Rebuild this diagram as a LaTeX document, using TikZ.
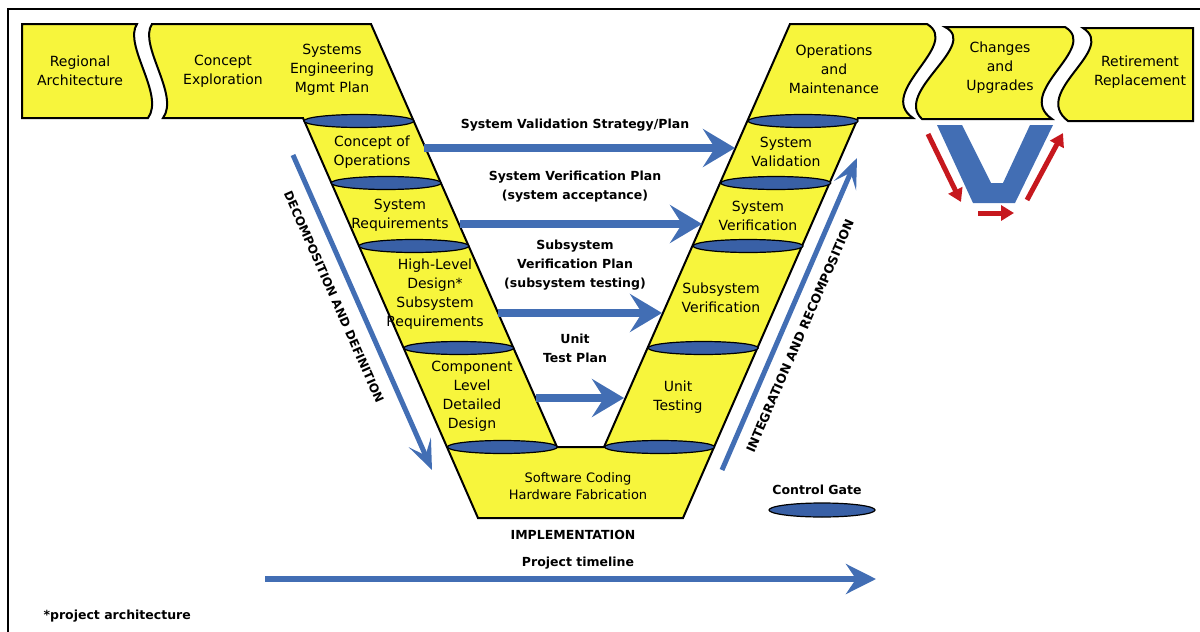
\documentclass[tikz,border=0pt]{standalone}
\usepackage{fontspec}
\setmainfont{DejaVu Sans}
\usetikzlibrary{arrows.meta}

\definecolor{phaseyellow}{RGB}{247,245,60}
\definecolor{gateblue}{RGB}{57,96,166}
\definecolor{flowblue}{RGB}{66,110,180}
\definecolor{stepred}{RGB}{198,24,30}

\begin{document}
\begin{tikzpicture}[x=1pt,y=-1pt,
    phase/.style={fill=phaseyellow,draw=black,line width=2pt},
    gate/.style={fill=gateblue,draw=black,line width=1.2pt},
    stage/.style={align=center,font=\fontsize{14}{19}\selectfont},
    plan/.style={align=center,font=\fontsize{12.5}{19}\selectfont\bfseries},
    flow/.style={draw=flowblue,line width=8pt,-{Stealth[length=32pt,width=38pt,inset=12pt]}},
    trend/.style={draw=flowblue,line width=5pt,-{Stealth[length=30pt,width=24pt,inset=14pt]}},
    redstep/.style={draw=stepred,line width=5pt,-{Triangle[length=13pt,width=15pt]}}]
    \useasboundingbox (0,0) rectangle (1200,632);

    % the frame
    \draw[line width=2pt] (8,632) -- (8,9) -- (1200,9);

    % regional architecture
    \draw[phase] (22,24) -- (137,24) .. controls (123,45) and (165,95) .. (148,118) -- (22,118) -- cycle;

    % concept, the v and operations
    \draw[phase] (152,24) -- (371,24) -- (557,447) -- (604,447) -- (790,24) -- (927,24)
        .. controls (962,45) and (875,92) .. (913,118) -- (858,118) -- (683,518) -- (478,518)
        -- (303,118) -- (163,118) .. controls (180,95) and (138,45) .. (152,24) -- cycle;

    % changes and upgrades
    \draw[phase] (945,27) -- (1065,27) .. controls (1100,48) and (1013,92) .. (1052,119)
        -- (922,119) .. controls (893,92) and (980,45) .. (945,27) -- cycle;

    % retirement
    \draw[phase] (1083,28) -- (1193,28) -- (1193,121) -- (1068,121)
        .. controls (1030,92) and (1118,50) .. (1083,28) -- cycle;

    % control gates on both arms
    \foreach \y in {121,183,246,348,447} {
        \draw[gate] ({358.5+0.44*(\y-120)},\y) ellipse [x radius=55pt,y radius=6.5pt];
        \draw[gate] ({803.5-0.44*(\y-120)},\y) ellipse [x radius=55pt,y radius=6.5pt];
    }

    % top phases
    \node[stage] (regarch) at (80,71) {Regional\\Architecture};
    \node[stage] (conexp) at (223,71) {Concept\\Exploration};
    \node[stage] (semp) at (332,70) {Systems\\Engineering\\Mgmt Plan};
    \node[stage] (opsmaint) at (834,69) {Operations\\and\\Maintenance};
    \node[stage] (changes) at (1000,68) {Changes\\and\\Upgrades};
    \node[stage] (retire) at (1140,72) {Retirement\\Replacement};

    % left arm
    \node[stage] (conops) at (372,152) {Concept of\\Operations};
    \node[stage] (sysreq) at (400,215) {System\\Requirements};
    \node[stage] (hld) at (435,294) {High-Level\\Design*\\Subsystem\\Requirements};
    \node[stage] (compdes) at (472,396) {Component\\Level\\Detailed\\Design};
    \node[stage,font=\fontsize{13}{17.5}\selectfont] (coding) at (578,486) {Software Coding\\Hardware Fabrication};

    % right arm
    \node[stage] (unittest) at (678,397) {Unit\\Testing};
    \node[stage] (subver) at (721,298) {Subsystem\\Verification};
    \node[stage] (sysver) at (758,216) {System\\Verification};
    \node[stage] (sysval) at (786,152) {System\\Validation};

    % plans across the v
    \node[plan] (valplan) at (575,125) {System Validation Strategy/Plan};
    \node[plan] (verplan) at (575,187) {System Verification Plan\\(system acceptance)};
    \node[plan] (subplan) at (575,265) {Subsystem\\Verification Plan\\(subsystem testing)};
    \node[plan] (unitplan) at (575,348) {Unit\\Test Plan};

    \coordinate (valL) at (424,148);  \coordinate (valR) at (735,148);
    \coordinate (verL) at (460,224);  \coordinate (verR) at (702,224);
    \coordinate (subL) at (498,313);  \coordinate (subR) at (662,313);
    \coordinate (unitL) at (536,398); \coordinate (unitR) at (624,398);
    \draw[flow] (valL) -- (valR);
    \draw[flow] (verL) -- (verR);
    \draw[flow] (subL) -- (subR);
    \draw[flow] (unitL) -- (unitR);

    % decomposition / integration
    \coordinate (decTop) at (293,155); \coordinate (decBot) at (432,470);
    \draw[trend] (decTop) -- (decBot);
    \node[plan,font=\fontsize{12}{14}\selectfont\bfseries,rotate=-66.2] (decomp) at (334,297) {DECOMPOSITION AND DEFINITION};
    \coordinate (intBot) at (722,470); \coordinate (intTop) at (857,158);
    \draw[trend] (intBot) -- (intTop);
    \node[plan,font=\fontsize{12.5}{14}\selectfont\bfseries,rotate=66.6] (integ) at (800,336) {INTEGRATION AND RECOMPOSITION};

    % bottom
    \node[plan] (impl) at (573,535) {IMPLEMENTATION};
    \node[plan] (timeline) at (578,563) {Project timeline};
    \coordinate (tlL) at (265,579); \coordinate (tlR) at (876,579);
    \draw[flow,line width=6pt,-{Stealth[length=30pt,width=30pt,inset=10pt]}] (tlL) -- (tlR);

    % legend
    \node[plan] (ctrlgate) at (817,490) {Control Gate};
    \draw[gate] (822,510) ellipse [x radius=53pt,y radius=7pt];
    \node[plan,anchor=west] (projarch) at (40,616) {*project architecture};

    % small v with red steps
    \fill[flowblue] (937,125) -- (962,125) -- (991,183) -- (1003,183) -- (1030,125) -- (1053,125)
        -- (1015,203) -- (973,203) -- cycle;
    \coordinate (downA) at (928,134); \coordinate (downB) at (961,202);
    \coordinate (flatA) at (978,213); \coordinate (flatB) at (1014,213);
    \coordinate (upA) at (1027,200);  \coordinate (upB) at (1063,133);
    \draw[redstep] (downA) -- (downB);
    \draw[redstep] (flatA) -- (flatB);
    \draw[redstep] (upA) -- (upB);
\end{tikzpicture}
\end{document}
